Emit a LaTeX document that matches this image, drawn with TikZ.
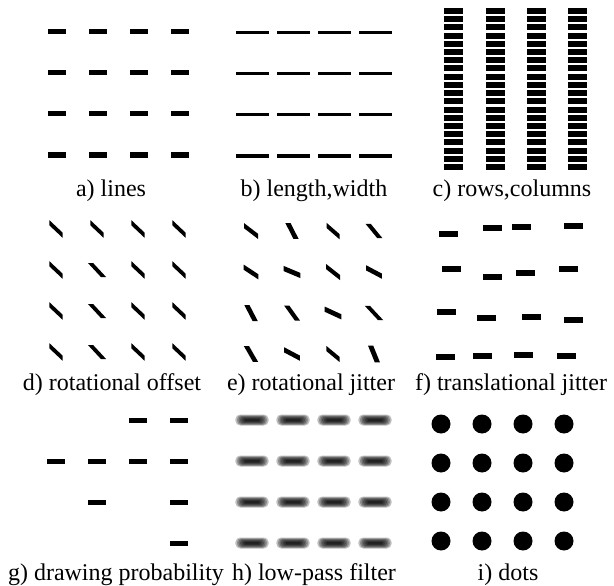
\documentclass[tikz,border=0pt]{standalone}
\usepackage{fontspec}
\setmainfont{Liberation Serif}
\usetikzlibrary{calc}
\begin{document}
\begin{tikzpicture}[x=1pt,y=-1pt,
  dashbar/.style={rectangle, fill=black, inner sep=0pt, minimum width=18pt, minimum height=5pt},
  fbar/.style={rectangle, fill=black, inner sep=0pt, minimum width=19pt, minimum height=6pt},
  longbar/.style={rectangle, fill=black, inner sep=0pt, minimum width=33pt, minimum height=3pt},
  stackbar/.style={rectangle, fill=black, inner sep=0pt, minimum width=19pt, minimum height=6pt},
  dotmark/.style={circle, fill=black, inner sep=0pt, minimum size=19pt},
  blurlayer/.style={fill=black, fill opacity=0.25},
  lbl/.style={anchor=base, inner sep=0pt, font=\fontsize{24}{28}\selectfont},
  % stroke with vertical pen (shallow lines): #1 = half dx, #2 = half dy
  pics/vstroke/.style 2 args={code={\fill (-#1,{-#2-2.6}) -- (-#1,{-#2+2.6}) -- (#1,{#2+2.6}) -- (#1,{#2-2.6}) -- cycle;}},
  % stroke with horizontal pen (steep lines)
  pics/hstroke/.style 2 args={code={\fill ({-#1-2.6},-#2) -- ({-#1+2.6},-#2) -- ({#1+2.6},#2) -- ({#1-2.6},#2) -- cycle;}}]
\useasboundingbox (0,0) rectangle (614,586);

% a) lines
\foreach \c in {0,...,3} \foreach \r in {0,...,3}
  \node[dashbar] (a\c\r) at ({57+41*\c},{32+41*\r}) {};
% b) length, width
\foreach \c in {0,...,3} \foreach \r in {0,...,3}
  \node[longbar] (b\c\r) at ({252.5+41*\c},{33+41*\r}) {};
% c) rows, columns
\foreach \x [count=\ci] in {453.5,495,536.5,577.5} \foreach \r in {0,...,19}
  \node[stackbar] (c\ci-\r) at (\x,{11+8.21*\r}) {};

% d) rotational offset
\foreach \c/\r/\p in {0/0/v,1/0/v,2/0/v,3/0/v,
                      0/1/v,1/1/h,2/1/v,3/1/v,
                      0/2/v,1/2/h,2/2/v,3/2/v,
                      0/3/v,1/3/h,2/3/v,3/3/v} {
  \coordinate (d\c\r) at ({56+41*\c},{229+41*\r});
  \if\p v
    \pic at (d\c\r) {vstroke={6.7}{6.3}};
  \else
    \pic at (d\c\r) {hstroke={6.5}{7}};
  \fi
}
% e) rotational jitter
\foreach \c/\r/\p/\dx/\dy in {0/0/v/7/5.35,   1/0/h/4/7.85,    2/0/v/6.5/5.65,  3/0/h/5.85/7.15,
                              0/1/v/7.35/4.85, 1/1/v/8.35/3.5,  2/1/v/7/5.5,     3/1/v/7.85/4.15,
                              0/2/h/4.15/8,    1/2/h/5.35/7.5,  2/2/v/8.35/3.85, 3/2/h/6.65/7.15,
                              0/3/h/4.5/7.85,  1/3/v/7.85/4.15, 2/3/v/6.65/5.5,  3/3/h/3.35/8.35} {
  \coordinate (e\c\r) at ({251+41*\c},{231+41*\r});
  \if\p v
    \pic at (e\c\r) {vstroke={\dx}{\dy}};
  \else
    \pic at (e\c\r) {hstroke={\dx}{\dy}};
  \fi
}
% f) translational jitter
\foreach \x/\y [count=\k] in {448.7/234,492.7/228,521.3/227.3,573.7/226.3,
                   451.3/269,492.7/277.3,525/273,568.7/269,
                   446/312,486.3/318,531.3/317.3,573.7/320,
                   445.3/357,482.7/356.3,523.7/355,566.3/355.7}
  \node[fbar] (f\k) at (\x,\y) {};

% g) drawing probability
\foreach \c/\r in {2/0,3/0,0/1,1/1,2/1,3/1,1/2,3/2,3/3}
  \node[dashbar] (g\c\r) at ({56+41*\c},{420+41*\r}) {};
% h) low-pass filter
\foreach \c in {0,...,3} \foreach \r in {0,...,3} {
  \coordinate (h\c\r) at ({252+41*\c},{420+41*\r});
  \foreach \k in {0,...,6}
    \fill[blurlayer, rounded corners={0.5pt+0.7pt*\k}]
      ($(h\c\r)+({-7-1.6*\k},{-1-0.75*\k})$) rectangle ($(h\c\r)+({7+1.6*\k},{1+0.75*\k})$);
}
% i) dots
\foreach \c in {0,...,3} \foreach \r in {0,...,3}
  \node[dotmark] (i\c\r) at ({441+41*\c},{424+39*\r}) {};

% labels
\node[lbl] (la) at (111,196) {a) lines};
\node[lbl] (lb) at (314,196) {b) length,width};
\node[lbl] (lc) at (512,196) {c) rows,columns};
\node[lbl] (ld) at (112,390) {d) rotational offset};
\node[lbl] (le) at (311,390) {e) rotational jitter};
\node[lbl] (lf) at (511,390) {f) translational jitter};
\node[lbl] (lg) at (116,580) {g) drawing probability};
\node[lbl] (lh) at (314,580) {h) low-pass filter};
\node[lbl] (li) at (508,580) {i) dots};
\end{tikzpicture}
\end{document}
